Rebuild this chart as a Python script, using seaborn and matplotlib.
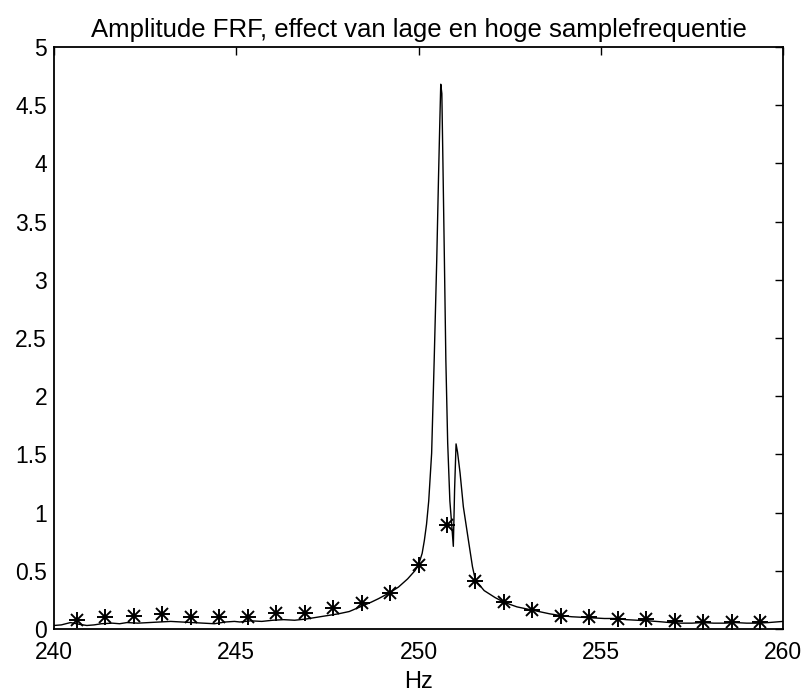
import matplotlib
matplotlib.use("Agg")
import matplotlib.pyplot as plt
import seaborn as sns
import pandas as pd

# High-resolution FRF amplitude (continuous line)
freq_hi = [240.0, 240.2, 240.45, 240.7, 240.9, 241.1, 241.3, 241.6, 241.8, 242.0,
           242.3, 242.6, 242.9, 243.2, 243.5, 243.8, 244.1, 244.4, 244.7, 244.95,
           245.1, 245.4, 245.7, 246.0, 246.3, 246.6, 246.9, 247.2, 247.5, 247.8,
           248.1, 248.4, 248.7, 248.9, 249.2, 249.45, 249.7, 249.9, 250.0, 250.1,
           250.16, 250.22, 250.28, 250.36, 250.43, 250.5, 250.55, 250.58, 250.61, 250.64,
           250.67, 250.71, 250.75, 250.8, 250.86, 250.91, 250.955, 250.99, 251.03, 251.07,
           251.14, 251.23, 251.37, 251.48, 251.56, 251.8, 252.1, 252.34, 252.7, 253.0,
           253.3, 253.6, 253.9, 254.2, 254.5, 254.8, 255.1, 255.4, 255.7, 256.0,
           256.3, 256.6, 256.9, 257.2, 257.5, 257.8, 258.1, 258.4, 258.7, 259.0,
           259.3, 259.6, 259.8, 260.0]
amp_hi = [0.03, 0.035, 0.055, 0.04, 0.03, 0.035, 0.045, 0.05, 0.045, 0.055,
          0.05, 0.055, 0.06, 0.065, 0.06, 0.055, 0.05, 0.045, 0.06, 0.065,
          0.06, 0.07, 0.065, 0.075, 0.08, 0.075, 0.085, 0.1, 0.115, 0.13,
          0.15, 0.19, 0.23, 0.26, 0.31, 0.36, 0.43, 0.5, 0.55, 0.65,
          0.76, 0.9, 1.1, 1.51, 2.31, 3.17, 3.9, 4.3, 4.68, 4.6,
          4.0, 3.17, 2.31, 1.6, 1.1, 0.9, 0.71, 1.2, 1.59, 1.52,
          1.34, 1.05, 0.76, 0.535, 0.42, 0.33, 0.27, 0.23, 0.19, 0.17,
          0.15, 0.13, 0.115, 0.105, 0.1, 0.095, 0.09, 0.09, 0.08, 0.075,
          0.07, 0.063, 0.055, 0.05, 0.05, 0.055, 0.05, 0.05, 0.055, 0.05,
          0.05, 0.055, 0.06, 0.065]

# Low sample-frequency FRF amplitude (asterisk markers)
freq_lo = [240.625, 241.406, 242.188, 242.969, 243.75, 244.531, 245.313, 246.094,
           246.875, 247.656, 248.438, 249.219, 250.0, 250.781, 251.563, 252.344,
           253.125, 253.906, 254.688, 255.469, 256.25, 257.031, 257.813, 258.594,
           259.375]
amp_lo = [0.08, 0.10, 0.11, 0.125, 0.105, 0.10, 0.105, 0.14, 0.135, 0.18,
          0.22, 0.31, 0.55, 0.89, 0.41, 0.235, 0.163, 0.11, 0.10, 0.083,
          0.083, 0.072, 0.06, 0.06, 0.06]

xticks = [240, 245, 250, 255, 260]
yticks = [0, 0.5, 1, 1.5, 2, 2.5, 3, 3.5, 4, 4.5, 5]
ytick_labels = ["0", "0.5", "1", "1.5", "2", "2.5", "3", "3.5", "4", "4.5", "5"]

df_hi = pd.DataFrame({"Hz": freq_hi, "amp": amp_hi})
df_lo = pd.DataFrame({"Hz": freq_lo, "amp": amp_lo})

sns.set_style("white")
plt.rcParams["font.family"] = ["Liberation Sans", "DejaVu Sans"]
plt.rcParams["text.color"] = "black"
plt.rcParams["axes.labelcolor"] = "black"

fig = plt.figure(figsize=(8.06, 6.96), dpi=100)
ax = fig.add_axes([0.067, 0.0963, 0.9045, 0.8362])

sns.lineplot(data=df_hi, x="Hz", y="amp", ax=ax, color="black", linewidth=1.0,
             sort=False, estimator=None)
sns.lineplot(data=df_lo, x="Hz", y="amp", ax=ax, color="black", linestyle="none",
             marker="+", markersize=12, markeredgewidth=1.4, markeredgecolor="black",
             sort=False, estimator=None)
sns.lineplot(data=df_lo, x="Hz", y="amp", ax=ax, color="black", linestyle="none",
             marker="x", markersize=9, markeredgewidth=1.4, markeredgecolor="black",
             sort=False, estimator=None)

ax.set_xlim(240, 260)
ax.set_ylim(0, 5)
ax.set_xticks(xticks)
ax.set_xticklabels([str(t) for t in xticks])
ax.set_yticks(yticks)
ax.set_yticklabels(ytick_labels)
ax.tick_params(axis="both", direction="in", length=6, width=1.0, labelsize=16.5,
               top=True, right=True, colors="black")
ax.tick_params(axis="x", pad=9)
ax.tick_params(axis="y", pad=5)
for s in ax.spines.values():
    s.set_visible(True)
    s.set_color("black")
    s.set_linewidth(1.3)
ax.set_xlabel("Hz", fontsize=17, labelpad=5, color="black")
ax.set_ylabel("")
ax.set_title("Amplitude FRF, effect van lage en hoge samplefrequentie",
             fontsize=18.5, pad=7, color="black")

fig.savefig("out.png", dpi=100)
